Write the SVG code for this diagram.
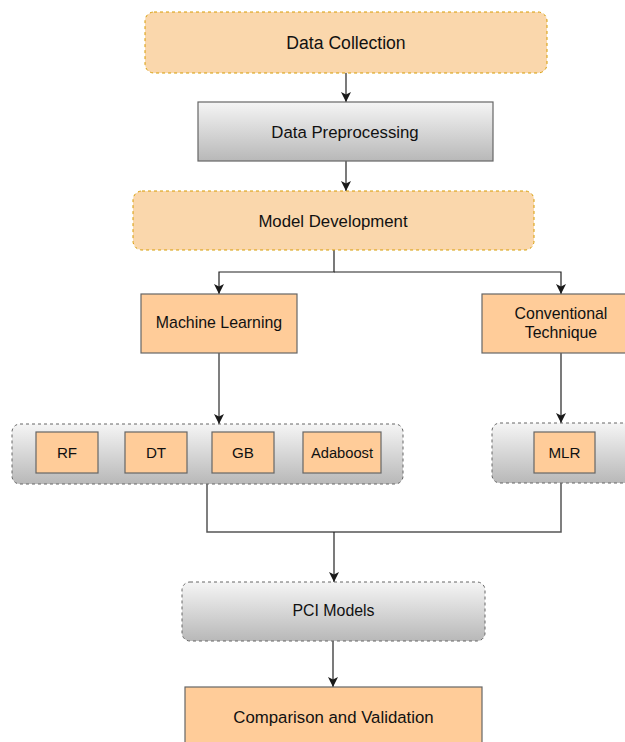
<svg xmlns="http://www.w3.org/2000/svg" width="625" height="742" viewBox="0 0 625 742">
<defs>
<linearGradient id="gray" x1="0" y1="0" x2="0" y2="1">
<stop offset="0" stop-color="#f5f5f5"/>
<stop offset="1" stop-color="#b8b8b8"/>
</linearGradient>
<marker id="arr" markerUnits="userSpaceOnUse" markerWidth="10" markerHeight="10" viewBox="0 0 10 10" refX="10" refY="5" orient="auto">
<path d="M0,0 L10,5 L0,10 L2.5,5 z" fill="#1a1a1a"/>
</marker>
</defs>
<style>
.dash-o{fill:#fad7ac;stroke:#d79b00;stroke-width:1;stroke-dasharray:3 3}
.solid-o{fill:#ffcc99;stroke:#666666;stroke-width:1.2}
.gray-s{fill:url(#gray);stroke:#666666;stroke-width:1.2}
.gray-d{fill:url(#gray);stroke:#666666;stroke-width:1;stroke-dasharray:3 3}
text{font-family:"Liberation Sans",Arial,Helvetica,sans-serif;fill:#111;text-anchor:middle}
.t17{font-size:16.8px}
.t16{font-size:15.9px}
.t15{font-size:15.2px}
.c{fill:none;stroke:#222;stroke-width:1.2}
.cg{fill:none;stroke:#555;stroke-width:1.5}
</style>
<rect width="625" height="742" fill="#ffffff"/>
<g id="connectors">
<line class="c" x1="346" y1="73" x2="346" y2="102" marker-end="url(#arr)"/>
<line class="c" x1="346" y1="161" x2="346" y2="191" marker-end="url(#arr)"/>
<polyline class="c" points="334,250 334,272 219,272 219,294" marker-end="url(#arr)"/>
<polyline class="c" points="334,272 561,272 561,294" marker-end="url(#arr)"/>
<line class="cg" x1="219" y1="353" x2="219" y2="424" marker-end="url(#arr)"/>
<line class="c" x1="561" y1="353" x2="561" y2="423" marker-end="url(#arr)"/>
<polyline class="cg" points="207,484 207,532 561,532 561,483"/>
<line class="c" x1="334" y1="532" x2="334" y2="582" marker-end="url(#arr)"/>
<line class="c" x1="333" y1="641" x2="333" y2="687" marker-end="url(#arr)"/>
</g>
<g id="data-collection">
<rect class="dash-o" x="145" y="12" width="402" height="61" rx="9"/>
<text class="t17" x="346" y="49" style="font-size:17.6px">Data Collection</text>
</g>
<g id="data-preprocessing">
<rect class="gray-s" x="198" y="102" width="295" height="59"/>
<text class="t17" x="345" y="137.5">Data Preprocessing</text>
</g>
<g id="model-development">
<rect class="dash-o" x="133" y="191" width="401" height="59" rx="9"/>
<text class="t17" x="333" y="226.5">Model Development</text>
</g>
<g id="machine-learning">
<rect class="solid-o" x="141" y="294" width="156" height="59"/>
<text class="t16" x="219" y="328">Machine Learning</text>
</g>
<g id="conventional-technique">
<rect class="solid-o" x="482" y="294" width="158" height="59"/>
<text class="t16" x="561" y="318.5">Conventional</text>
<text class="t16" x="561" y="337.5">Technique</text>
</g>
<g id="ml-models">
<rect class="gray-d" x="12" y="424" width="391" height="60" rx="8"/>
</g>
<g id="rf">
<rect class="solid-o" x="36" y="432" width="62" height="41"/>
<text class="t15" x="67" y="457.5">RF</text>
</g>
<g id="dt">
<rect class="solid-o" x="125" y="432" width="62" height="41"/>
<text class="t15" x="156" y="457.5">DT</text>
</g>
<g id="gb">
<rect class="solid-o" x="212" y="432" width="62" height="41"/>
<text class="t15" x="243" y="457.5">GB</text>
</g>
<g id="adaboost">
<rect class="solid-o" x="303" y="432" width="78" height="41"/>
<text class="t15" x="342" y="457.5" style="font-size:14.7px">Adaboost</text>
</g>
<g id="conv-models">
<rect class="gray-d" x="492" y="423" width="145" height="60" rx="8"/>
</g>
<g id="mlr">
<rect class="solid-o" x="534" y="432" width="61" height="41"/>
<text class="t15" x="564.5" y="457.5">MLR</text>
</g>
<g id="pci-models">
<rect class="gray-d" x="182" y="582" width="303" height="59" rx="8"/>
<text class="t16" x="333.5" y="615.5">PCI Models</text>
</g>
<g id="comparison-validation">
<rect class="solid-o" x="185" y="687" width="297" height="60"/>
<text class="t17" x="333.5" y="723">Comparison and Validation</text>
</g>
</svg>
